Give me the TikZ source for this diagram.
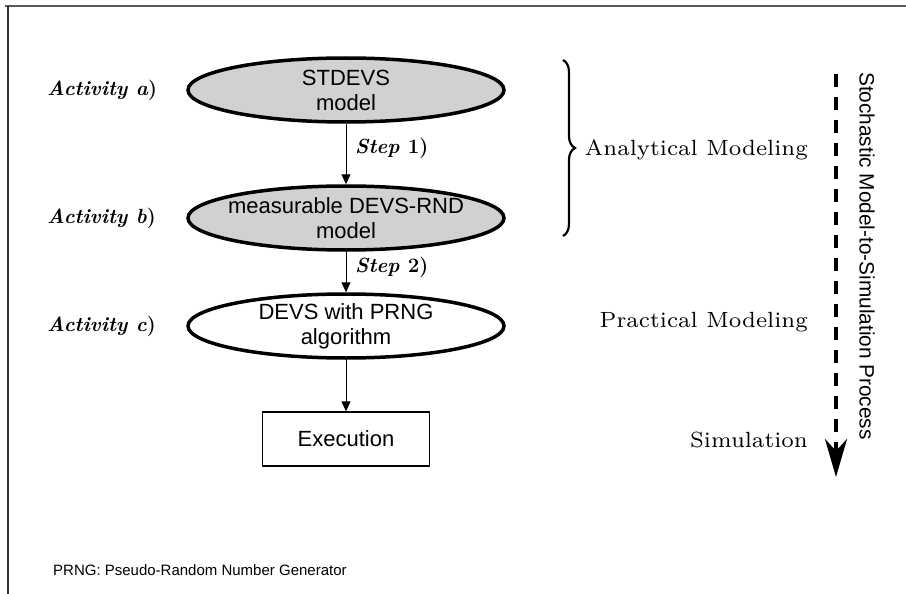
\documentclass[tikz,border=0pt]{standalone}
\usepackage{fontspec}
\newfontfamily\arialf{Liberation Sans}
\newfontfamily\lmseven{lmroman7-regular.otf}
\newfontfamily\lmbi{lmroman10-bolditalic.otf}
\newcommand\upparen{{\rmfamily\bfseries\upshape )}}
\usetikzlibrary{shapes.geometric,arrows.meta,decorations.pathreplacing}
\begin{document}
\begin{tikzpicture}[x=1pt,y=-1pt,
  ell/.style={ellipse,draw,line width=3.5pt,minimum width=316pt,minimum height=64pt,inner sep=0pt},
  etext/.style={align=center,font=\arialf\fontsize{22}{25}\selectfont,inner sep=0pt},
  actlabel/.style={anchor=west,font=\lmbi\fontsize{20.5}{22}\selectfont,inner sep=0pt},
  steplabel/.style={anchor=west,font=\lmbi\fontsize{20.5}{22}\selectfont,inner sep=0pt},
  phase/.style={anchor=east,font=\lmseven\fontsize{22}{26}\selectfont,inner sep=0pt},
  conn/.style={line width=1pt,-{Triangle[length=10pt,width=9pt]}}]
\useasboundingbox (0,0) rectangle (906,594);
% frame
\draw[line width=2pt,black!65] (5,6.5) -- (906,6.5);
\draw[line width=1.5pt,black!80] (8,6) -- (8,594);
% ellipses
\node[ell,fill=black!18] (a) at (346,90) {};
\node[etext] (at) at (a) {STDEVS\\model};
\node[ell,fill=black!18] (b) at (346,218) {};
\node[etext] (bt) at (b) {measurable DEVS-RND\\model};
\node[ell,fill=white] (c) at (346,326) {};
\node[etext] (ct) at (c) {DEVS with PRNG\\algorithm};
\node[draw,line width=1.3pt,minimum width=167pt,minimum height=54pt,inner sep=0pt,font=\arialf\fontsize{22}{25}\selectfont] (e) at (346,439) {Execution};
% connectors
\draw[conn] (a.south) -- (b.north);
\draw[conn] (b.south) -- (c.north);
\draw[conn] (c.south) -- (e.north);
% step labels
\node[steplabel] (s1) at (355,148) {Step {\rmfamily\bfseries 1)}};
\node[steplabel] (s2) at (355,267) {Step {\rmfamily\bfseries 2)}};
% activity labels
\node[actlabel] (la) at (47,90) {Activity a\upparen};
\node[actlabel] (lb) at (47,218) {Activity b\upparen};
\node[actlabel] (lc) at (47,326) {Activity c\upparen};
% brace
\draw[line width=2.2pt,decorate,decoration={brace,amplitude=12pt}] (563,60) -- (563,236);
% phase labels
\node[phase] (p1) at (808,150) {Analytical Modeling};
\node[phase] (p2) at (808,322) {Practical Modeling};
\node[phase] (p3) at (808,440) {Simulation};
% dashed process arrow
\coordinate (d0) at (836,70);
\coordinate (d1) at (836,477);
\draw[line width=4pt,dash pattern=on 13pt off 10pt,dash phase=19pt,-{Stealth[length=38pt,width=22pt,inset=12pt]}] (d0) -- (d1);
\node[rotate=-90,font=\arialf\fontsize{20.8}{24}\selectfont,inner sep=0pt] (proc) at (867,256) {Stochastic Model-to-Simulation Process};
% footnote
\node[anchor=west,font=\arialf\fontsize{15}{18}\selectfont,inner sep=0pt] (fn) at (53,570) {PRNG: Pseudo-Random Number Generator};
\end{tikzpicture}
\end{document}
